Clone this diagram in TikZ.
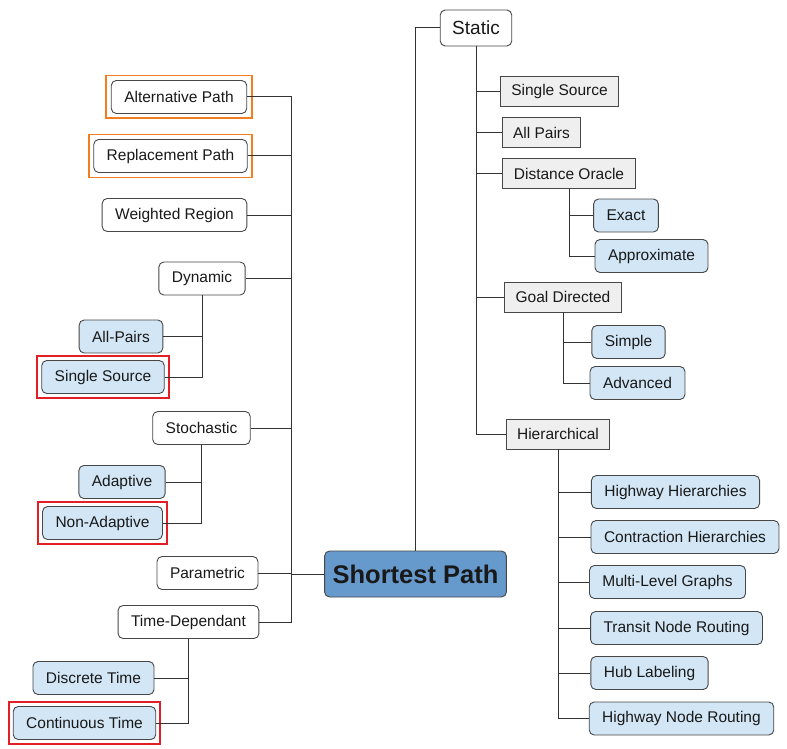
\documentclass[tikz,border=0pt]{standalone}
\usepackage{fontspec}
\setmainfont{Liberation Sans}
\usetikzlibrary{fit}
\definecolor{leaf}{HTML}{D2E6F5}
\definecolor{grey}{HTML}{EFEFEF}
\definecolor{root}{HTML}{6699CC}
\definecolor{edge}{HTML}{333333}
\definecolor{hlorange}{HTML}{F47E1F}
\definecolor{hlred}{HTML}{E31E24}
\begin{document}
\begin{tikzpicture}
  [x=1pt, y=-1pt,
   every node/.style={font=\fontsize{15.5}{18}\selectfont, text=black!90, inner xsep=13pt, inner ysep=0pt},
   cat/.style={draw=edge!90, line width=.9pt, rounded corners=5pt, fill=white, minimum height=33pt},
   sub/.style={draw=edge!90, line width=.9pt, fill=grey, minimum height=30pt, inner xsep=11pt},
   leafbox/.style={cat, fill=leaf},
   hlo/.style={draw=hlorange, line width=1.9pt, inner sep=4.5pt},
   hlr/.style={draw=hlred, line width=1.9pt, inner sep=4pt},
   link/.style={draw=edge, line width=1pt}]
  \useasboundingbox (0, 0) rectangle (787, 749);

  \node[cat, fill=root, font=\fontsize{25.5}{30}\bfseries, inner xsep=8pt, minimum height=46pt] (sp) at (415.5, 574) {Shortest Path};

  % static side
  \node[cat, minimum height=36pt, inner xsep=12pt, font=\fontsize{19}{22}\selectfont] (static) at (476, 28) {Static};
  \node[sub] (srcS) at (559.5, 91.5) {Single Source};
  \node[sub] (allp) at (541.5, 132.5) {All Pairs};
  \node[sub] (oracle) at (569, 173.5) {Distance Oracle};
  \node[leafbox] (exact) at (626, 215.5) {Exact};
  \node[leafbox] (approx) at (651.5, 256) {Approximate};
  \node[sub] (goal) at (563, 297) {Goal Directed};
  \node[leafbox] (simple) at (628.5, 342) {Simple};
  \node[leafbox] (adv) at (637.5, 383) {Advanced};
  \node[sub] (hier) at (558, 434) {Hierarchical};
  \node[leafbox] (hh) at (675.5, 492) {Highway Hierarchies};
  \node[leafbox] (ch) at (685, 537) {Contraction Hierarchies};
  \node[leafbox] (mlg) at (667.5, 582) {Multi-Level Graphs};
  \node[leafbox] (tnr) at (676.5, 628) {Transit Node Routing};
  \node[leafbox] (hub) at (649.5, 673) {Hub Labeling};
  \node[leafbox] (hnr) at (681.5, 718.5) {Highway Node Routing};

  % other variants
  \node[cat] (altp) at (179, 97) {Alternative Path};
  \node[cat] (repl) at (170.5, 156) {Replacement Path};
  \node[cat] (wreg) at (174.5, 215) {Weighted Region};
  \node[cat] (dyn) at (202, 278.5) {Dynamic};
  \node[leafbox] (dallp) at (121, 336.5) {All-Pairs};
  \node[leafbox] (dsrc) at (103, 377) {Single Source};
  \node[cat] (stoch) at (201.5, 428) {Stochastic};
  \node[leafbox] (adapt) at (122, 482) {Adaptive};
  \node[leafbox] (nadapt) at (102.5, 523) {Non-Adaptive};
  \node[cat] (param) at (207.5, 573) {Parametric};
  \node[cat] (tdep) at (188.5, 622) {Time-Dependant};
  \node[leafbox] (dtime) at (93.5, 678) {Discrete Time};
  \node[leafbox] (ctime) at (84.5, 723) {Continuous Time};
  \coordinate (ltrunk) at (291, 574);

  \node[hlo, fit=(altp)] (altpbox) {};
  \node[hlo, fit=(repl)] (replbox) {};
  \foreach \n in {dsrc,nadapt,ctime}
  \node[hlr, fit=(\n)] (\n box) {};

  \draw[link] (sp.north) |- (static.west);
  \foreach \from/\to in {static/srcS,static/allp,static/oracle,static/goal,static/hier,oracle/exact,oracle/approx,goal/simple,goal/adv,hier/hh,hier/ch,hier/mlg,hier/tnr,hier/hub,hier/hnr}
  \draw[link] (\from.south) |- (\to.west);
  \foreach \from/\to in {dyn/dallp,dyn/dsrc,stoch/adapt,stoch/nadapt,tdep/dtime,tdep/ctime}
  \draw[link] (\from.south) |- (\to.east);
  \foreach \from in {altp,repl,wreg,dyn,stoch,param,tdep}
  \draw[link] (\from.east) -| (ltrunk);
  \draw[link] (ltrunk) -- (sp.west);

\end{tikzpicture}
\end{document}
